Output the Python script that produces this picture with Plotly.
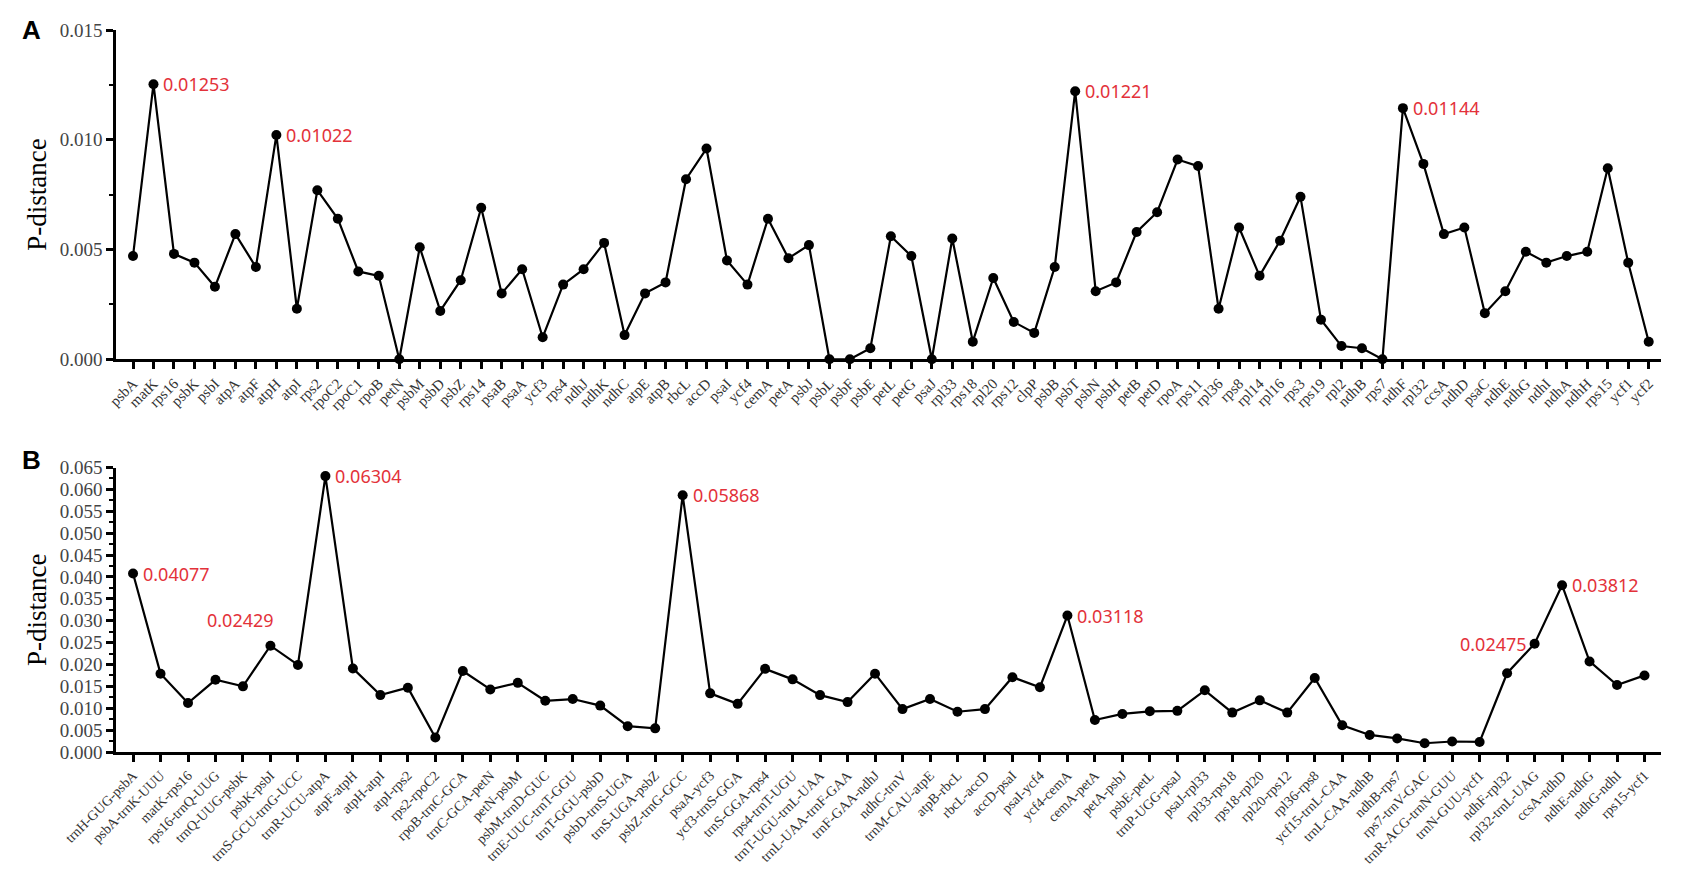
import plotly.graph_objects as go

# ---- panel A: coding regions ----
genes_a = ["psbA", "matK", "rps16", "psbK", "psbI", "atpA", "atpF", "atpH", "atpI", "rps2",
           "rpoC2", "rpoC1", "rpoB", "petN", "psbM", "psbD", "psbZ", "rps14", "psaB", "psaA",
           "ycf3", "rps4", "ndhJ", "ndhK", "ndhC", "atpE", "atpB", "rbcL", "accD", "psaI",
           "ycf4", "cemA", "petA", "psbJ", "psbL", "psbF", "psbE", "petL", "petG", "psaJ",
           "rpl33", "rps18", "rpl20", "rps12", "clpP", "psbB", "psbT", "psbN", "psbH", "petB",
           "petD", "rpoA", "rps11", "rpl36", "rps8", "rpl14", "rpl16", "rps3", "rps19", "rpl2",
           "ndhB", "rps7", "ndhF", "rpl32", "ccsA", "ndhD", "psaC", "ndhE", "ndhG", "ndhI",
           "ndhA", "ndhH", "rps15", "ycf1", "ycf2"]
pdist_a = [0.0047, 0.01253, 0.0048, 0.0044, 0.0033, 0.0057, 0.0042, 0.01022, 0.0023, 0.0077,
           0.0064, 0.0040, 0.0038, 0.0000, 0.0051, 0.0022, 0.0036, 0.0069, 0.0030, 0.0041,
           0.0010, 0.0034, 0.0041, 0.0053, 0.0011, 0.0030, 0.0035, 0.0082, 0.0096, 0.0045,
           0.0034, 0.0064, 0.0046, 0.0052, 0.0000, 0.0000, 0.0005, 0.0056, 0.0047, 0.0000,
           0.0055, 0.0008, 0.0037, 0.0017, 0.0012, 0.0042, 0.01221, 0.0031, 0.0035, 0.0058,
           0.0067, 0.0091, 0.0088, 0.0023, 0.0060, 0.0038, 0.0054, 0.0074, 0.0018, 0.0006,
           0.0005, 0.0000, 0.01144, 0.0089, 0.0057, 0.0060, 0.0021, 0.0031, 0.0049, 0.0044,
           0.0047, 0.0049, 0.0087, 0.0044, 0.0008]
peaks_a = ["matK", "atpH", "psbT", "ndhF"]

# ---- panel B: intergenic regions ----
regions_b = ["trnH-GUG-psbA", "psbA-trnK-UUU", "matK-rps16", "rps16-trnQ-UUG", "trnQ-UUG-psbK",
             "psbK-psbI", "trnS-GCU-trnG-UCC", "trnR-UCU-atpA", "atpF-atpH", "atpH-atpI",
             "atpI-rps2", "rps2-rpoC2", "rpoB-trnC-GCA", "trnC-GCA-petN", "petN-psbM",
             "psbM-trnD-GUC", "trnE-UUC-trnT-GGU", "trnT-GGU-psbD", "psbD-trnS-UGA",
             "trnS-UGA-psbZ", "psbZ-trnG-GCC", "psaA-ycf3", "ycf3-trnS-GGA", "trnS-GGA-rps4",
             "rps4-trnT-UGU", "trnT-UGU-trnL-UAA", "trnL-UAA-trnF-GAA", "trnF-GAA-ndhJ",
             "ndhC-trnV", "trnM-CAU-atpE", "atpB-rbcL", "rbcL-accD", "accD-psaI", "psaI-ycf4",
             "ycf4-cemA", "cemA-petA", "petA-psbJ", "psbE-petL", "trnP-UGG-psaJ", "psaJ-rpl33",
             "rpl33-rps18", "rps18-rpl20", "rpl20-rps12", "rpl36-rps8", "ycf15-trnL-CAA",
             "trnL-CAA-ndhB", "ndhB-rps7", "rps7-trnV-GAC", "trnR-ACG-trnN-GUU", "trnN-GUU-ycf1",
             "ndhF-rpl32", "rpl32-trnL-UAG", "ccsA-ndhD", "ndhE-ndhG", "ndhG-ndhI", "rps15-ycf1"]
pdist_b = [0.04077, 0.0179, 0.0112, 0.0165, 0.0150, 0.02429, 0.0199, 0.06304, 0.0191, 0.0130,
           0.0147, 0.0033, 0.0185, 0.0143, 0.0158, 0.0117, 0.0121, 0.0106, 0.0059, 0.0054,
           0.05868, 0.0134, 0.0110, 0.0190, 0.0166, 0.0130, 0.0114, 0.0179, 0.0098, 0.0121,
           0.0092, 0.0098, 0.0171, 0.0148, 0.03118, 0.0073, 0.0087, 0.0093, 0.0094, 0.0141,
           0.0090, 0.0118, 0.0090, 0.0169, 0.0061, 0.0039, 0.0031, 0.0020, 0.0024, 0.0023,
           0.0180, 0.02475, 0.03812, 0.0207, 0.0153, 0.0175]
peaks_b = ["trnH-GUG-psbA", "psbK-psbI", "trnR-UCU-atpA", "psbZ-trnG-GCC", "ycf4-cemA",
           "rpl32-trnL-UAG", "ccsA-ndhD"]

RED = "#e3323a"
SERIF = "Liberation Serif, Times New Roman, serif"

fig = go.Figure()
fig.add_trace(go.Scatter(x=genes_a, y=pdist_a, mode="lines+markers", xaxis="x", yaxis="y",
                         line=dict(color="black", width=2.2),
                         marker=dict(color="black", size=10), cliponaxis=False))
fig.add_trace(go.Scatter(x=regions_b, y=pdist_b, mode="lines+markers", xaxis="x2", yaxis="y2",
                         line=dict(color="black", width=2.2),
                         marker=dict(color="black", size=10), cliponaxis=False))

# peak labels
for g in peaks_a:
    v = pdist_a[genes_a.index(g)]
    fig.add_annotation(x=g, y=v, xref="x", yref="y", text=f"{v:.5f}", showarrow=False,
                       xanchor="left", xshift=8, font=dict(color=RED, size=18, family="Noto Sans"))
for r in peaks_b:
    v = pdist_b[regions_b.index(r)]
    kw = dict(xanchor="left", xshift=8, yshift=0)
    if r == "psbK-psbI":
        kw = dict(xanchor="center", xshift=-30, yshift=26)
    elif r == "rpl32-trnL-UAG":
        kw = dict(xanchor="right", xshift=-6, yshift=0)
    fig.add_annotation(x=r, y=v, xref="x2", yref="y2", text=f"{v:.5f}", showarrow=False,
                       font=dict(color=RED, size=18, family="Noto Sans"), **kw)

# panel letters
fig.add_annotation(x=-0.062, y=1.0, xref="paper", yref="paper", text="<b>A</b>", showarrow=False,
                   xanchor="left", yanchor="middle",
                   font=dict(size=26, color="black", family="Liberation Sans, Arial"))
fig.add_annotation(x=-0.062, y=0.405, xref="paper", yref="paper", text="<b>B</b>", showarrow=False,
                   xanchor="left", yanchor="middle",
                   font=dict(size=26, color="black", family="Liberation Sans, Arial"))

xax = dict(type="category", showline=True, linecolor="black", linewidth=2.5, ticks="outside",
           ticklen=7, tickwidth=2.5, tickcolor="black", tickangle=-45, showgrid=False,
           zeroline=False, tickfont=dict(family=SERIF, size=15, color="#333"))
yax = dict(showline=True, linecolor="black", linewidth=2.5, ticks="outside", ticklen=7,
           tickwidth=2.5, tickcolor="black", showgrid=False, zeroline=False,
           tickfont=dict(family=SERIF, size=19, color="#444"),
           title=dict(text="P-distance", font=dict(family=SERIF, size=27, color="black"), standoff=6))

fig.update_layout(
    width=1681, height=871,
    margin=dict(l=108, r=28, t=20, b=127),
    paper_bgcolor="white", plot_bgcolor="white",
    showlegend=False,
    xaxis=dict(xax, domain=[0, 1], anchor="y", range=[-0.83, 74.6]),
    yaxis=dict(yax, domain=[0.544, 1], anchor="x", range=[0, 0.015], tickformat=".3f",
               dtick=0.005, minor=dict(dtick=0.0025, ticks="outside", ticklen=4, tickwidth=2,
                                       tickcolor="black")),
    xaxis2=dict(xax, domain=[0, 1], anchor="y2", range=[-0.62, 55.6],
                tickfont=dict(family=SERIF, size=14, color="#333")),
    yaxis2=dict(yax, domain=[0, 0.394], anchor="x2", range=[0, 0.065], tickformat=".3f",
                dtick=0.005, minor=dict(dtick=0.0025, ticks="outside", ticklen=4, tickwidth=2,
                                        tickcolor="black")),
)

fig.write_html("out.html")
